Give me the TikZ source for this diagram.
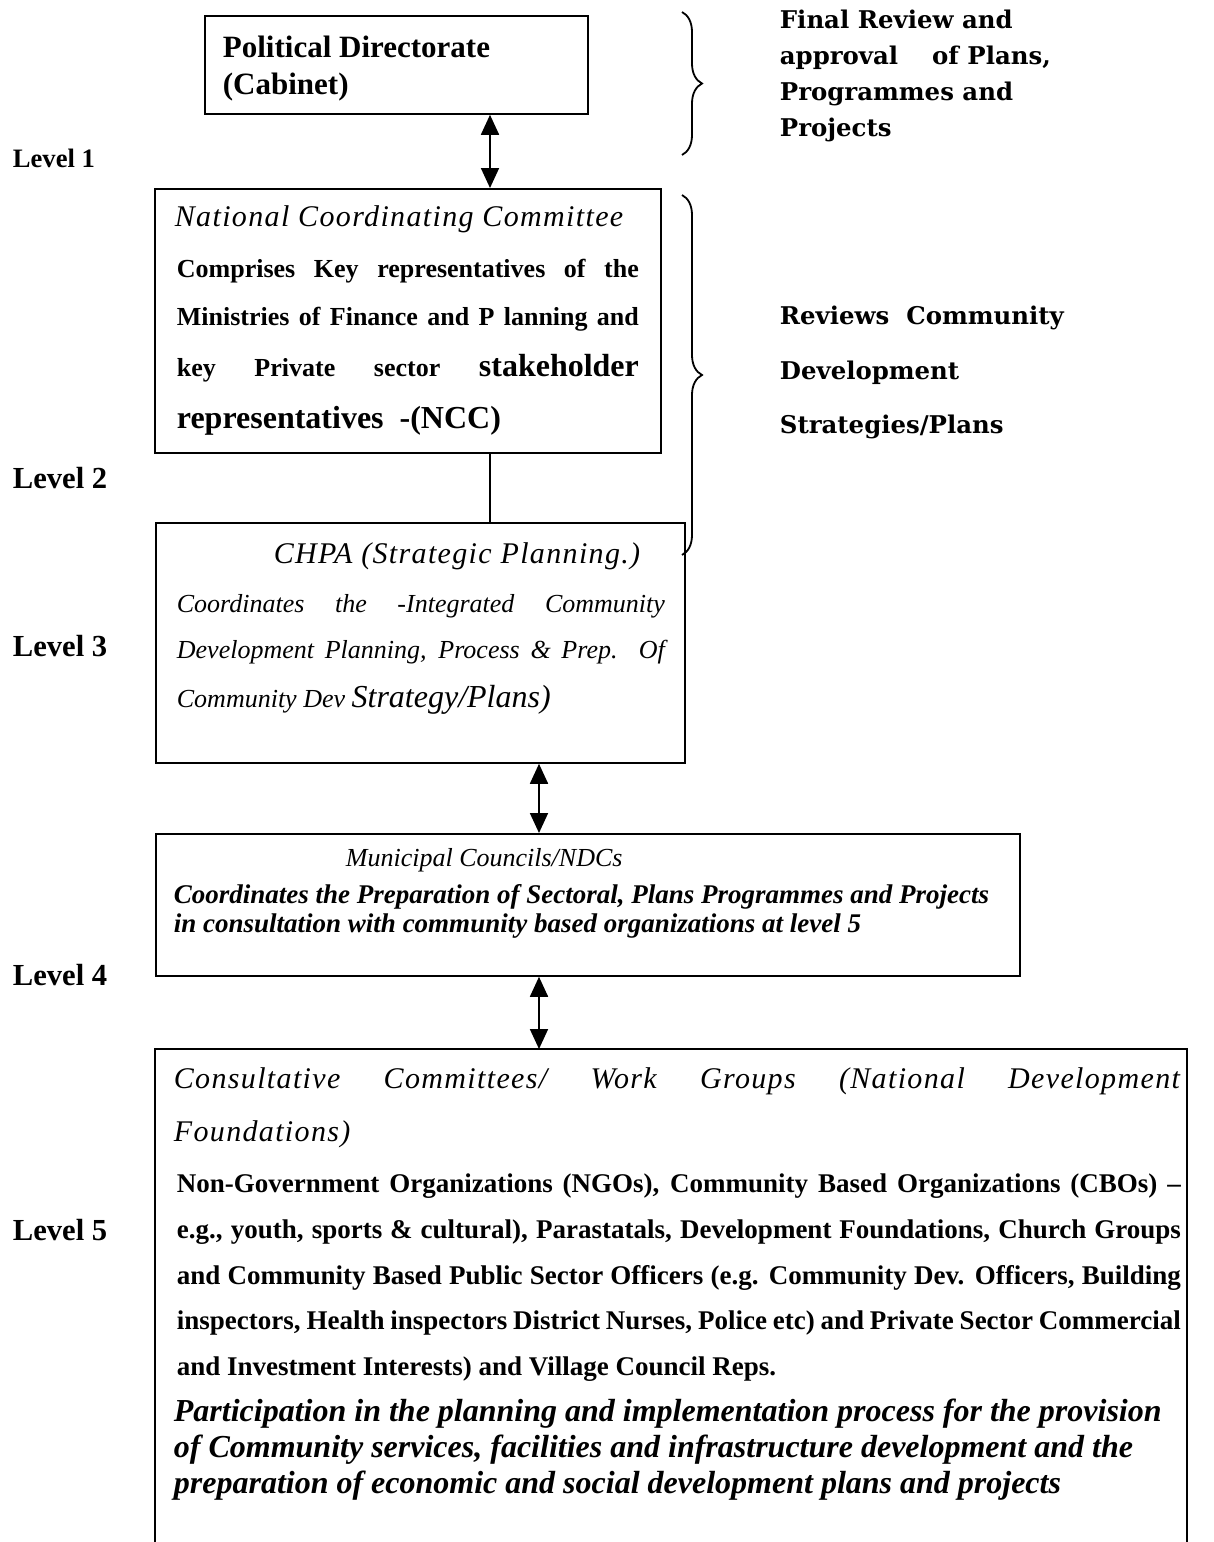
\documentclass[tikz,border=0pt]{standalone}
\usepackage{fontspec}
\setmainfont{Liberation Serif}
\newfontfamily\titleserif[LetterSpace=4.5]{Liberation Serif}
\newfontfamily\sideserif{DejaVu Serif}
\usetikzlibrary{arrows.meta,decorations.pathreplacing,positioning}

\begin{document}
\begin{tikzpicture}[x=0.5pt,y=-0.5pt,>={Triangle[length=10pt,width=9pt]},
                    line width=0.9pt,
                    level box/.style={draw,anchor=north west,inner sep=0pt},
                    line text/.style={anchor=base west,inner sep=0pt},
                    title text/.style={line text,font=\titleserif\itshape\fontsize{15}{17}\selectfont},
                    side text/.style={anchor=base west,inner sep=0pt,font=\sideserif\bfseries\fontsize{12.2}{14}\selectfont},
                    level label/.style={anchor=base west,inner sep=0pt,font=\bfseries\fontsize{15.3}{17}\selectfont}]

  \useasboundingbox (0,0) rectangle (1214,1542);

  % boxes of the five levels
  \node[level box,minimum width=191.5pt,minimum height=49pt] (pol) at (204,15) {};
  \node[level box,minimum width=253pt,minimum height=132pt] (ncc) at (154,188) {};
  \node[level box,minimum width=264.5pt,minimum height=120pt] (chpa) at (155,522) {};
  \node[level box,minimum width=432pt,minimum height=71pt] (mun) at (155,833) {};
  \node[level box,draw=none,minimum width=515pt,minimum height=247pt] (cons) at (155,1049) {};
  \draw (cons.south west) -- (cons.north west) -- (cons.north east) -- (cons.south east);

  % columns of the links
  \coordinate (colA) at (490,0);
  \coordinate (colB) at (539,0);

  \draw[<->] (pol.south -| colA) -- (ncc.north -| colA);
  \draw (ncc.south -| colA) -- (chpa.north -| colA);
  \draw[<->] (chpa.south -| colB) -- (mun.north -| colB);
  \draw[<->] (mun.south -| colB) -- (cons.north -| colB);

  % level 1
  \node[line text,font=\bfseries\fontsize{15.5}{17}\selectfont] (pol1) at (222,57) {Political Directorate};
  \node[line text,font=\bfseries\fontsize{15.5}{17}\selectfont] (pol2) at (222,94) {(Cabinet)};

  % level 2
  \node[title text] (ncc0) at (174,226) {National Coordinating Committee};
  \node[line text,font=\bfseries\fontsize{13}{15}\selectfont] (ncc1) at (176,277) {\makebox[231pt][s]{Comprises Key representatives of the}};
  \node[line text,font=\bfseries\fontsize{13}{15}\selectfont] (ncc2) at (176,325) {\makebox[231pt][s]{Ministries of Finance and P lanning and}};
  \node[line text,font=\bfseries\fontsize{13}{15}\selectfont] (ncc3) at (176,376) {\makebox[231pt][s]{key Private sector {\fontsize{16}{18}\selectfont stakeholder}}};
  \node[line text,font=\bfseries\fontsize{16}{18}\selectfont] (ncc4) at (176,428) {representatives\ \ -(NCC)};

  % level 3
  \node[title text] (chpa0) at (273,563) {CHPA (Strategic Planning.)};
  \node[line text,font=\itshape\fontsize{13}{15}\selectfont] (chpa1) at (176,612) {\makebox[244pt][s]{Coordinates the -Integrated Community}};
  \node[line text,font=\itshape\fontsize{13}{15}\selectfont] (chpa2) at (176,658) {\makebox[244pt][s]{Development Planning, Process \& Prep. Of}};
  \node[line text,font=\itshape\fontsize{13}{15}\selectfont] (chpa3) at (176,707) {Community Dev {\fontsize{16}{18}\selectfont Strategy/Plans)}};

  % level 4
  \node[line text,font=\itshape\fontsize{13}{15}\selectfont] (mun0) at (345,866) {Municipal Councils/NDCs};
  \node[line text,font=\bfseries\itshape\fontsize{13.5}{15}\selectfont] (mun1) at (173,903) {Coordinates the Preparation of Sectoral, Plans Programmes and Projects};
  \node[line text,font=\bfseries\itshape\fontsize{13.5}{15}\selectfont] (mun2) at (173,932) {in consultation with community based organizations at level 5};

  % level 5
  \node[title text] (cons0) at (173,1088) {\makebox[503pt][s]{Consultative Committees/ Work Groups (National Development}};
  \node[title text] (cons1) at (173,1141) {Foundations)};
  \node[line text,font=\bfseries\fontsize{13.5}{15}\selectfont] (cons2) at (176,1192) {\makebox[502pt][s]{Non-Government Organizations (NGOs), Community Based Organizations (CBOs) –}};
  \node[line text,font=\bfseries\fontsize{13.5}{15}\selectfont] (cons3) at (176,1238) {\makebox[502pt][s]{e.g., youth, sports \& cultural), Parastatals, Development Foundations, Church Groups}};
  \node[line text,font=\bfseries\fontsize{13.5}{15}\selectfont] (cons4) at (176,1284) {\makebox[502pt][s]{and Community Based Public Sector Officers (e.g. Community Dev. Officers, Building}};
  \node[line text,font=\bfseries\fontsize{13.5}{15}\selectfont] (cons5) at (176,1329) {\makebox[502pt][s]{inspectors, Health inspectors District Nurses, Police etc) and Private Sector Commercial}};
  \node[line text,font=\bfseries\fontsize{13.5}{15}\selectfont] (cons6) at (176,1375) {and Investment Interests) and Village Council Reps.};
  \node[line text,font=\bfseries\itshape\fontsize{16}{18}\selectfont] (cons7) at (173,1421) {Participation in the planning and implementation process for the provision};
  \node[line text,font=\bfseries\itshape\fontsize{16}{18}\selectfont] (cons8) at (173,1457) {of Community services, facilities and infrastructure development and the};
  \node[line text,font=\bfseries\itshape\fontsize{16}{18}\selectfont] (cons9) at (173,1493) {preparation of economic and social development plans and projects};

  % level labels
  \node[level label,font=\bfseries\fontsize{13.3}{15}\selectfont] (lev1) at (12,167) {Level 1};
  \node[level label] (lev2) at (12,488) {Level 2};
  \node[level label] (lev3) at (12,656) {Level 3};
  \node[level label] (lev4) at (12,985) {Level 4};
  \node[level label] (lev5) at (12,1240) {Level 5};

  % braces and their notes
  \coordinate (brA1) at (682,12);
  \coordinate (brA2) at (682,155);
  \coordinate (brB1) at (682,195);
  \coordinate (brB2) at (682,555);
  \draw[decorate,decoration={brace,amplitude=10pt}] (brA1) -- (brA2);
  \draw[decorate,decoration={brace,amplitude=10pt}] (brB1) -- (brB2);

  \node[side text] (fin1) at (779,28) {Final Review and};
  \node[side text] (fin2) at (779,64) {approval\ \ \ \ of Plans,};
  \node[side text] (fin3) at (779,100) {Programmes and};
  \node[side text] (fin4) at (779,136) {Projects};
  \node[side text] (rev1) at (779,324) {Reviews\ \ Community};
  \node[side text] (rev2) at (779,379) {Development};
  \node[side text] (rev3) at (779,433) {Strategies/Plans};
\end{tikzpicture}
\end{document}
